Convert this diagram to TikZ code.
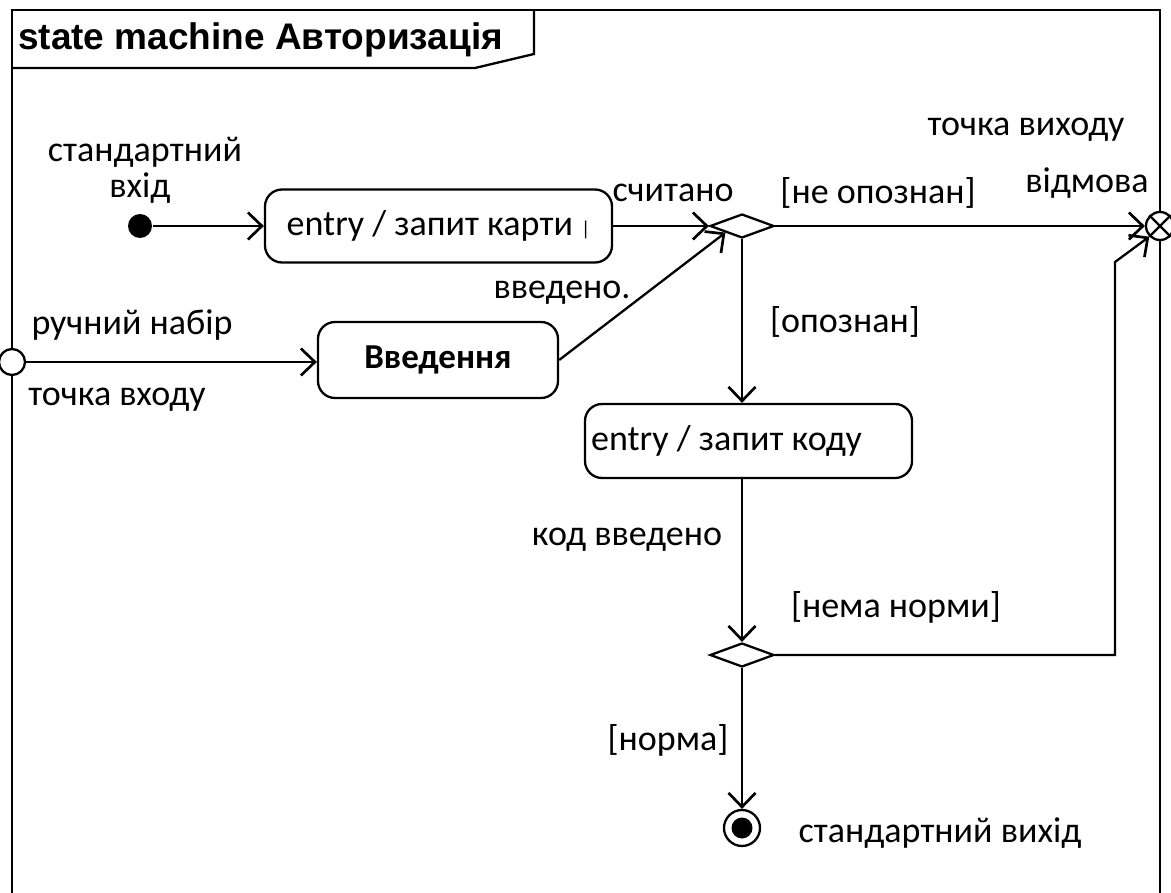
\documentclass[tikz,border=0pt]{standalone}
\usepackage{fontspec}
\setmainfont{Carlito}
\newfontfamily\titlefont{Liberation Sans}
\usetikzlibrary{arrows.meta,shapes.geometric}

\begin{document}
\begin{tikzpicture}[x=1pt,y=-1pt,line width=2.3pt,
  lbl/.style={font=\fontsize{36}{40}\selectfont,inner sep=0pt},
  statebox/.style={draw,rounded corners=17pt,inner sep=0pt,font=\fontsize{36}{40}\selectfont},
  choice/.style={draw,diamond,inner sep=0pt,minimum width=64pt,minimum height=24pt},
  flow/.style={-{Straight Barb[length=14pt,width=27pt,line width=2.7pt]}},
  pseudo/.style={draw,circle,fill=white,inner sep=0pt,minimum size=26pt}
]
\useasboundingbox (0,0) rectangle (1171,893);

% frame with its name tab
\draw (12,893) -- (12,10) -- (1160,10) -- (1160,893);
\draw (534,10) -- (534,54) -- (475,68) -- (12,68);
\node[anchor=west,inner sep=0pt,font=\titlefont\bfseries\fontsize{37}{42}\selectfont] (title) at (17,40) {state machine Авторизація};

% states
\node[statebox,minimum width=347pt,minimum height=73pt] (card) at (438.5,226) {entry / запит карти {\fontsize{20}{22}\selectfont|}};
\node[statebox,minimum width=240pt,minimum height=76pt,font=\fontsize{35}{40}\selectfont\bfseries] (input) at (438,360) {Введення};
\node[statebox,minimum width=327pt,minimum height=74pt] (code) at (748.5,441) {};
\node[lbl,anchor=west] (codetext) at (590,441) {entry / запит коду};

% pseudostates
\node[choice] (c1) at (742,226) {};
\node[choice] (c2) at (742,655) {};
\node[circle,fill=black,inner sep=0pt,minimum size=24pt] (init) at (140,226) {};
\node[pseudo] (entry) at (12,362) {};
\node[pseudo,minimum size=28pt] (exit) at (1160,226) {};
\draw (exit.north west) -- (exit.south east) (exit.north east) -- (exit.south west);
\node[draw,circle,inner sep=0pt,minimum size=36pt] (final) at (742,828) {};
\fill (final.center) circle (10.5pt);
\coordinate (bendlow) at (1115,655);
\coordinate (bendhigh) at (1115,262);

% transitions
\draw[flow] (init) -- (card);
\draw[flow] (card.east) -- (c1.west);
\draw[flow] (entry) -- (entry -| input.west);
\draw[flow] (input.east) -- (c1.south west);
\draw[flow] (c1.east) -- (exit.west);
\draw[flow] (c1.south) -- (c1.south |- code.north);
\draw[flow] (c2.north |- code.south) -- (c2.north);
\draw[flow] (c2.east) -- (bendlow) -- (bendhigh) -- (exit.south west);
\draw[flow] (c2.south) -- (final.north);

% labels
\node[lbl] (l1) at (145,152) {стандартний};
\node[lbl] (l2) at (140,188) {вхід};
\node[lbl] (l3) at (673,193) {считано};
\node[lbl] (l4) at (878,193) {[не опознан]};
\node[lbl] (l5) at (1026,130) {точка виходу};
\node[lbl] (l6) at (1087,183) {відмова};
\node[lbl] (l7) at (562,293) {введено.};
\node[lbl] (l8) at (132,325) {ручний набір};
\node[lbl] (l9) at (117,400) {точка входу};
\node[lbl] (l10) at (845,322) {[опознан]};
\node[lbl] (l11) at (627,540) {код введено};
\node[lbl] (l12) at (896,607) {[нема норми]};
\node[lbl] (l13) at (668,740) {[норма]};
\node[lbl] (l14) at (940,833) {стандартний вихід};
\end{tikzpicture}
\end{document}
